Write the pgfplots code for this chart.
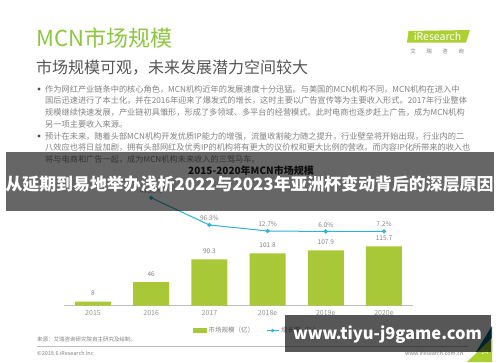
\documentclass[border=0pt]{standalone}
\usepackage{pgfplots}
\pgfplotsset{compat=1.18}
\usepackage{fontspec}
\setmainfont{Noto Sans CJK SC}
\XeTeXlinebreaklocale "zh"
\XeTeXlinebreakskip=0pt plus 2pt minus 0.4pt
\definecolor{titlegreen}{RGB}{141,198,63}
\definecolor{logogreen}{RGB}{170,208,50}
\definecolor{bargreen}{RGB}{168,200,55}
\definecolor{linecyan}{RGB}{45,180,215}
\definecolor{txtgray}{RGB}{130,130,130}
\definecolor{subgray}{RGB}{85,85,85}
\pgfplotsset{/pgf/number format/assume math mode=true}
\newcommand{\bl}[1]{\makebox[415pt][s]{#1}}
\begin{document}
\begin{tikzpicture}
\path[use as bounding box] (0,0) rectangle (500pt,-362pt);
\fill[white] (0,0) rectangle (500pt,-362pt);
\begin{scope}[x=1pt,y=-1pt]
% titles
\node[anchor=west, text=titlegreen, font=\fontsize{22}{22}\selectfont, inner sep=0] at (36,38) {MCN市场规模};
\node[anchor=west, text=subgray, font=\fontsize{16}{16}\selectfont, inner sep=0] at (36,68) {市场规模可观，未来发展潜力空间较大};
% logo
\fill[logogreen] (407,42.5) -- (408.5,31) -- (470,30) -- (466,42.5) -- cycle;
\node[white, font=\fontsize{10.5}{10.5}\selectfont, inner sep=0] at (437.5,36.5) {iResearch};
\foreach \xx/\cc in {413/艾,429/瑞,445/咨,461/询}{
  \node[text=txtgray, font=\fontsize{5.5}{5.5}\selectfont, inner sep=0] at (\xx,51.5) {\cc};
}
% bullets
\fill[black!70] (39,89) circle (1.6);
\fill[black!70] (39,136) circle (1.6);
\begin{scope}[every node/.style={anchor=west, text=txtgray, font=\fontsize{8.2}{8.2}\selectfont, inner sep=0}]
\node at (45,89) {\bl{作为网红产业链条中的核心角色，MCN机构近年的发展速度十分迅猛。与美国的MCN机构不同，MCN机构在进入中}};
\node at (45,100.5) {\bl{国后迅速进行了本土化，并在2016年迎来了爆发式的增长，这时主要以广告宣传等为主要收入形式。2017年行业整体}};
\node at (45,112) {\bl{规模继续快速发展，产业链初具雏形，形成了多领域、多平台的经营模式。此时电商也逐步赶上广告，成为MCN机构}};
\node at (45,124) {另一项主要收入来源。};
\node at (45,136) {\bl{预计在未来，随着头部MCN机构开发优质IP能力的增强，流量收割能力随之提升，行业壁垒将开始出现，行业内的二}};
\node at (45,147.5) {\bl{八效应也将日益加剧，拥有头部网红及优秀IP的机构将有更大的议价权和更大比例的营收。而内容IP化所带来的收入也}};
\node at (45,159) {将与电商和广告一起，成为MCN机构未来收入的三驾马车。};
\end{scope}
% chart title
\node[text=black!85, font=\bfseries\fontsize{10}{10}\selectfont, inner sep=0] at (251,171) {2015-2020年MCN市场规模};
% footer
\node[anchor=west, text=txtgray, font=\fontsize{5.5}{5.5}\selectfont, inner sep=0] at (37,339) {来源：艾瑞咨询研究院自主研究及绘制。};
\draw[black!25, line width=0.5pt] (37,346.5) -- (468,346.5);
\node[anchor=west, text=txtgray, font=\fontsize{5.5}{5.5}\selectfont, inner sep=0] at (37,353) {©2018.6 iResearch Inc};
\node[anchor=west, text=txtgray, font=\fontsize{5.5}{5.5}\selectfont, inner sep=0] at (405,353) {www.iresearch.com.cn};
\fill[black!75!blue!60!cyan] (476,352) -- (492,326) -- (492,352) -- cycle;
\fill[logogreen] (467,362) -- (492,338) -- (492,362) -- cycle;
\node[text=white!85!logogreen, font=\fontsize{6}{6}\selectfont, inner sep=0] at (485,352) {24};
\end{scope}

% bars
\begin{axis}[
  at={(63.9pt,-305.7pt)}, anchor=south west,
  scale only axis, width=349.2pt, height=115.7pt,
  xmin=-0.5, xmax=5.5, ymin=0, ymax=225.4,
  axis y line=none, axis x line*=bottom,
  x axis line style={draw=black!25, line width=0.8pt, -},
  xtick={0,...,5}, xticklabels={2015,2016,2017,2018e,2019e,2020e},
  xtick style={draw=none},
  xticklabel style={font=\fontsize{7}{7}\selectfont, text=txtgray!85, yshift=-1.5pt},
  nodes near coords,
  nodes near coords style={font=\fontsize{6.5}{6.5}\selectfont, text=txtgray, yshift=2pt},
  clip=false,
  legend columns=2,
  legend style={at={(0.361,-0.215)}, anchor=west, draw=none, fill=none,
    font=\fontsize{6.5}{6.5}\selectfont, text=txtgray,
    /tikz/every even column/.append style={column sep=10pt}},
]
\addplot[ybar, bar width=36pt, fill=bargreen, draw=none, forget plot]
  coordinates {(0,8) (1,46) (2,90.3) (3,101.8) (4,107.9) (5,115.7)};
\addlegendimage{legend image code/.code={\fill[bargreen] (0pt,-2pt) rectangle (13pt,2pt);}}
\addlegendentry{市场规模（亿）}
\addlegendimage{legend image code/.code={\draw[linecyan, line width=1pt] (0pt,0pt) -- (12pt,0pt); \fill[linecyan] (6pt,0pt) circle (1.5pt);}}
\addlegendentry{增长率（\%）}
\end{axis}

% growth line
\begin{axis}[
  at={(63.9pt,-305.7pt)}, anchor=south west,
  scale only axis, width=349.2pt, height=115.7pt,
  xmin=-0.5, xmax=5.5, ymin=-1027.9, ymax=583.6,
  hide axis, clip=false,
]
\addplot[linecyan, line width=1pt, mark=*, mark size=1.6pt,
  nodes near coords={\pgfmathprintnumber[fixed,fixed zerofill,precision=1]{\pgfplotspointmeta}\%},
  nodes near coords style={font=\fontsize{6.5}{6.5}\selectfont, text=txtgray, yshift=0.5pt}]
  coordinates {(1,475) (2,96.3) (3,12.7) (4,6.0) (5,7.2)};
\end{axis}

% overlays
\begin{scope}[x=1pt,y=-1pt]
\fill[black, opacity=0.6] (6,152) rectangle (494,211);
\node[white, font=\bfseries\fontsize{16.9}{16.9}\selectfont, inner sep=0] at (249.5,184) {从延期到易地举办浅析2022与2023年亚洲杯变动背后的深层原因};
\fill[black, opacity=0.66] (285,315) rectangle (491,352);
\node[white, font=\bfseries\fontsize{16.5}{16.5}\selectfont, inner sep=0] at (387.5,334.5) {www.tiyu-j9game.com};
\end{scope}
\end{tikzpicture}
\end{document}
